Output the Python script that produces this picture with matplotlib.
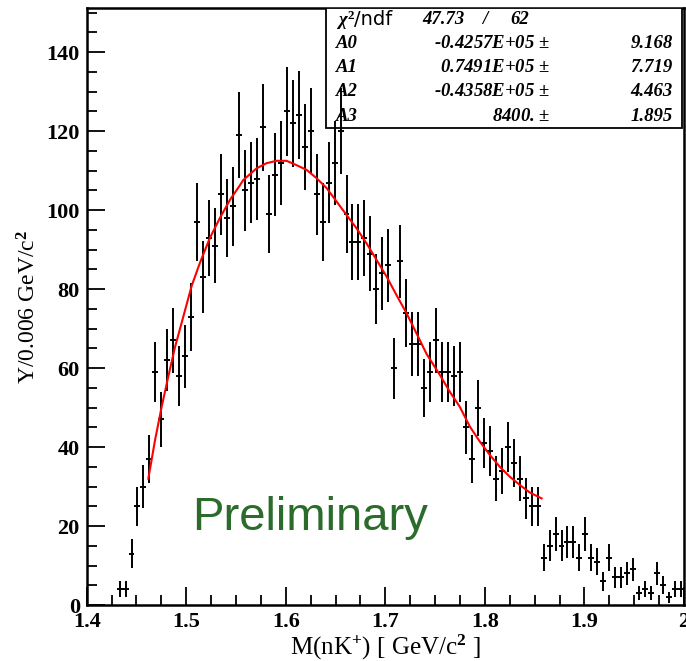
#!/usr/bin/env python3
"""
nk_mass.py -- nK+ invariant mass spectrum with cubic background fit.
"""

import numpy as np
import matplotlib
matplotlib.use("Agg")
import matplotlib.pyplot as plt
from matplotlib.patches import Rectangle
from matplotlib.ticker import MultipleLocator

# ─── Data ────────────────────────────────────────────────────────────────────

# histogram binning: 100 bins of 6 MeV between 1.4 and 2.0 GeV, first filled bin = 5
BIN_WIDTH = 0.006
FIRST_BIN = 5

counts = [
    4, 4, 13, 25, 30, 37, 59, 47, 62, 67,           # 1.433 - 1.487
    58, 63, 73, 97, 83, 93, 91, 104, 98, 101,       # 1.493 - 1.547
    119, 105, 107, 108, 121, 99, 109, 112, 125, 122,  # 1.553 - 1.607
    124, 116, 120, 104, 97, 107, 112, 120, 99, 92,  # 1.613 - 1.667
    92, 93, 89, 80, 84, 86, 60, 87, 74, 66,         # 1.673 - 1.727
    66, 55, 59, 67, 59, 59, 58, 59, 45, 37,         # 1.733 - 1.787
    50, 41, 39, 32, 34, 40, 36, 32, 27, 25,         # 1.793 - 1.847
    25, 12, 15, 18, 15, 16, 16, 12, 18, 12,         # 1.853 - 1.907
    11, 6, 12, 7, 7, 8, 9, 3, 4, 3,                 # 1.913 - 1.967
    8, 5, 2, 4, 4,                                  # 1.973 - 1.997
]

# fitted polynomial, sampled along the fit range
fit_x = [1.4619, 1.4686, 1.4753, 1.4819, 1.4887, 1.4954, 1.5054, 1.5138,
         1.5238, 1.5338, 1.5439, 1.5539, 1.5572, 1.5707, 1.5807, 1.5908,
         1.6008, 1.6108, 1.6209, 1.6309, 1.6410, 1.6510, 1.6610, 1.6711,
         1.6811, 1.6912, 1.7012, 1.7112, 1.7213, 1.7313, 1.7414, 1.7547,
         1.7648, 1.7748, 1.7849, 1.7949, 1.8050, 1.8150, 1.8250, 1.8351,
         1.8451, 1.8570]
fit_y = [32.0, 41.7, 50.2, 57.8, 65.3, 71.5, 80.8, 86.7,
         93.0, 98.0, 102.6, 106.3, 107.6, 110.6, 111.9, 112.5,
         112.5, 111.4, 110.2, 108.1, 105.6, 102.2, 98.8, 95.4,
         91.6, 87.4, 83.2, 78.5, 73.9, 68.8, 63.6, 58.3,
         54.0, 50.2, 45.2, 41.4, 38.0, 35.0, 32.5, 30.4,
         28.5, 27.0]

fit_rows = [
    ("A0", "-0.4257E+05", "9.168"),
    ("A1", "0.7491E+05", "7.719"),
    ("A2", "-0.4358E+05", "4.463"),
    ("A3", "8400.", "1.895"),
]
chi2 = "47.73"
ndf = "62"

# ─── Style ───────────────────────────────────────────────────────────────────

plt.rcParams.update({
    "font.family": "Liberation Serif",
    "font.weight": "bold",
    "mathtext.fontset": "custom",
    "mathtext.rm": "Liberation Serif:bold",
    "mathtext.it": "Liberation Serif:italic:bold",
    "mathtext.bf": "Liberation Serif:bold",
})

SERIF_BI = dict(family="Liberation Serif", weight="bold", style="italic")
BOX_FS = 13.5

# ─── Plot ────────────────────────────────────────────────────────────────────

counts = np.array(counts, dtype=float)
centers = 1.4 + BIN_WIDTH * (np.arange(FIRST_BIN, FIRST_BIN + len(counts)) + 0.5)

fig = plt.figure(figsize=(6.86, 6.61), dpi=100)
ax = fig.add_axes([0.1264, 0.0847, 0.8706, 0.9032])

ax.errorbar(centers, counts, yerr=np.sqrt(counts), xerr=BIN_WIDTH / 2,
            fmt="none", ecolor="black", elinewidth=1.4, capsize=0, zorder=4)
ax.plot(fit_x, fit_y, color="#ff0000", lw=1.5, zorder=5)

ax.set_xlim(1.4, 2.0)
ax.set_ylim(0, 151.2)
ax.xaxis.set_major_locator(MultipleLocator(0.1))
ax.xaxis.set_minor_locator(MultipleLocator(0.025))
ax.yaxis.set_major_locator(MultipleLocator(20))
ax.yaxis.set_minor_locator(MultipleLocator(5))
ax.xaxis.set_major_formatter(plt.FuncFormatter(lambda v, _: "2" if abs(v - 2) < 1e-9 else f"{v:.1f}"))
ax.tick_params(which="both", direction="in", top=False, right=False, width=1.3)
ax.tick_params(which="major", length=13, labelsize=16, pad=5)
ax.tick_params(which="minor", length=7)
for sp in ax.spines.values():
    sp.set_linewidth(1.8)

ax.set_xlabel(r"M(nK$^{+}$) [ GeV/c$^{2}$ ]", fontsize=18, labelpad=1)
ax.set_ylabel(r"Y/0.006 GeV/c$^{2}$", fontsize=17, labelpad=4)

# fit statistics box in the top right corner
ax.add_patch(Rectangle((0.4006, 0.7985), 0.5956, 0.2015, transform=ax.transAxes,
                       facecolor="white", edgecolor="black", lw=1.3, zorder=3))
row_y = [0.980, 0.9397, 0.8995, 0.8593, 0.8175]
ax.text(0.4174, row_y[0], r"$\chi^{2}$", transform=ax.transAxes, fontsize=BOX_FS,
        ha="left", va="center", zorder=6)
ax.text(0.4470, row_y[0], "/ndf", transform=ax.transAxes, fontsize=14,
        family="DejaVu Sans", weight="normal", ha="left", va="center", zorder=6)
ax.text(0.5615, row_y[0], chi2, transform=ax.transAxes, fontsize=BOX_FS,
        ha="left", va="center", zorder=6, **SERIF_BI)
ax.text(0.6667, row_y[0], "/", transform=ax.transAxes, fontsize=BOX_FS,
        ha="center", va="center", zorder=6, **SERIF_BI)
ax.text(0.7087, row_y[0], ndf, transform=ax.transAxes, fontsize=BOX_FS,
        ha="left", va="center", zorder=6, **SERIF_BI)
for (name, val, err), yy in zip(fit_rows, row_y[1:]):
    ax.text(0.4174, yy, name, transform=ax.transAxes, fontsize=BOX_FS,
            ha="left", va="center", zorder=6, **SERIF_BI)
    ax.text(0.7760, yy, val + r" $\pm$", transform=ax.transAxes, fontsize=BOX_FS,
            ha="right", va="center", zorder=6, **SERIF_BI)
    ax.text(0.9815, yy, err, transform=ax.transAxes, fontsize=BOX_FS,
            ha="right", va="center", zorder=6, **SERIF_BI)

ax.text(1.5057, 19.0, "Preliminary", fontsize=34, color="#2b6b2b",
        family="Liberation Sans", weight="normal", ha="left", va="baseline", zorder=6)

fig.savefig("out.png", dpi=100)
